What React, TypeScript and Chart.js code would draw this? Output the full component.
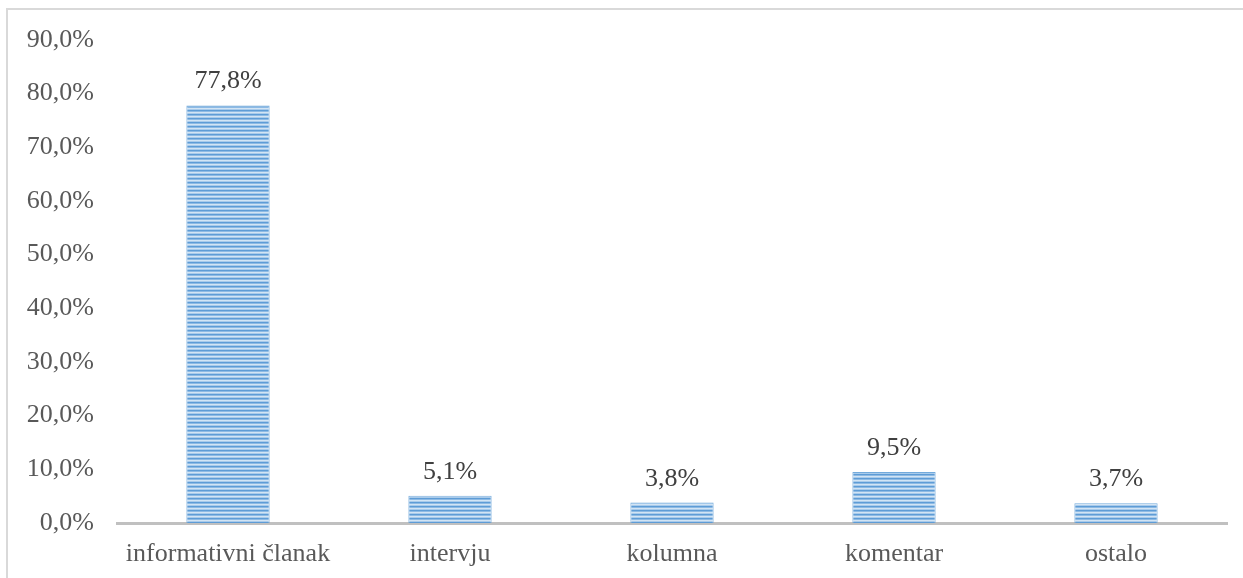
import React, { useEffect, useRef } from "react";
import { Chart, registerables } from "chart.js";

Chart.register(...registerables);

const categories = ["informativni članak", "intervju", "kolumna", "komentar", "ostalo"];
const values = [77.8, 5.1, 3.8, 9.5, 3.7];
const yMax = 90;
const yStep = 10;

const FONT = "'Liberation Serif', 'Times New Roman', serif";
const TEXT = "#595959";

function makePattern(): CanvasPattern | string {
  const c = document.createElement("canvas");
  c.width = 4;
  c.height = 4;
  const ctx = c.getContext("2d");
  if (!ctx) return "#5B9BD5";
  const rows = ["#5E9CD6", "#8DBAE4", "#D2E4F4", "#A9CBEB"];
  rows.forEach((col, i) => {
    ctx.fillStyle = col;
    ctx.fillRect(0, i, 4, 1);
  });
  const p = ctx.createPattern(c, "repeat");
  return p || "#5B9BD5";
}

const valueLabels = {
  id: "valueLabels",
  afterDatasetsDraw(chart: any) {
    const ctx = chart.ctx;
    const meta = chart.getDatasetMeta(0);
    ctx.save();
    ctx.font = `26px ${FONT}`;
    ctx.fillStyle = "#404040";
    ctx.textAlign = "center";
    ctx.textBaseline = "alphabetic";
    meta.data.forEach((bar: any, i: number) => {
      const v = values[i];
      ctx.fillText(v.toFixed(1).replace(".", ",") + "%", bar.x, bar.y - 17);
    });
    ctx.restore();
  },
};

export default function App() {
  const ref = useRef<HTMLCanvasElement | null>(null);
  useEffect(() => {
    if (!ref.current) return;
    const pattern = makePattern();
    const chart = new Chart(ref.current, {
      type: "bar",
      data: {
        labels: categories,
        datasets: [
          {
            data: values,
            backgroundColor: pattern as any,
            borderColor: "rgba(91,155,213,0.85)",
            borderWidth: { left: 1, right: 1, top: 1, bottom: 0 } as any,
            borderSkipped: false,
            barPercentage: 0.375,
            categoryPercentage: 1,
          },
        ],
      },
      options: {
        animation: false,
        responsive: false,
        maintainAspectRatio: false,
        layout: { padding: { top: 30, right: 16, left: 0, bottom: 0 } },
        plugins: { legend: { display: false }, tooltip: { enabled: false } },
        scales: {
          x: {
            grid: { display: false, drawTicks: false },
            border: { display: true, color: "#C0C0C0", width: 3 },
            ticks: { color: TEXT, font: { family: FONT, size: 26 }, padding: 16 },
            afterFit: (s: any) => {
              s.height = 57;
              s.paddingLeft = 0;
              s.paddingRight = 0;
            },
          },
          y: {
            min: 0,
            max: yMax,
            grid: { display: false, drawTicks: false },
            border: { display: false },
            ticks: {
              stepSize: yStep,
              color: TEXT,
              font: { family: FONT, size: 26 },
              padding: 23,
              callback: (v: any) => Number(v).toFixed(1).replace(".", ",") + "%",
            },
            afterFit: (s: any) => {
              s.width = 109;
              s.paddingTop = 0;
              s.paddingBottom = 0;
            },
          },
        },
      },
      plugins: [valueLabels],
    });
    return () => chart.destroy();
  }, []);
  return (
    <div
      style={{
        position: "absolute",
        left: 6,
        top: 8,
        width: 1300,
        height: 620,
        border: "2px solid #D9D9D9",
        background: "#fff",
      }}
    >
      <canvas ref={ref} width={1235} height={570} style={{ display: "block" }} />
    </div>
  );
}
